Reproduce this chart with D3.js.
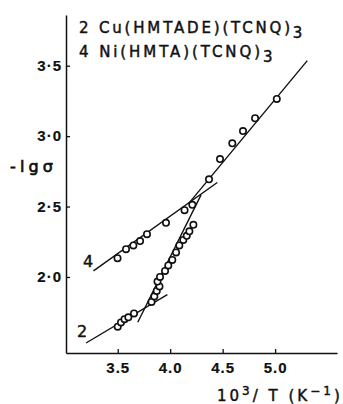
<!DOCTYPE html>
<html><head><meta charset="utf-8">
<script src="https://cdn.jsdelivr.net/npm/d3@7"></script>
<style>
html,body{margin:0;padding:0;background:#fff;}
svg{display:block;}
text{font-family:"DejaVu Sans","Liberation Sans",sans-serif;fill:#111;stroke:#111;stroke-width:0.45px;}
</style></head>
<body>
<div id="chart"></div>
<script>
// Data: x = 10^3/T (K^-1), y = -lg sigma
const s4x = [3.498,3.579,3.649,3.713,3.779,3.960,4.137,4.211,4.370,4.475,4.592,4.694,4.809,5.016];
const s4y = [2.133,2.197,2.224,2.255,2.304,2.384,2.474,2.512,2.693,2.837,2.949,3.036,3.127,3.264];
const s2x = [3.500,3.531,3.565,3.601,3.655,3.822,3.849,3.872,3.898,3.879,3.903,3.951,3.982,4.020,4.056,4.087,4.125,4.158,4.183,4.221];
const s2y = [1.647,1.677,1.700,1.713,1.741,1.823,1.862,1.901,1.933,1.967,2.000,2.043,2.082,2.121,2.174,2.224,2.263,2.292,2.324,2.370];
// fitted straight lines [x1,y1,x2,y2]
const fit4Low  = [3.269,2.043,4.449,2.671];
const fit4High = [4.173,2.519,5.307,3.536];
const fit2Low  = [3.198,1.531,3.973,1.875];
const fit2High = [3.691,1.678,4.294,2.583];
const xTicks = [3.5,4.0,4.5,5.0];
const xTickLabels = ["3.5","4.0","4.5","5.0"];
const yTicks = [2.0,2.5,3.0,3.5];
const yTickLabels = ["2·0","2·5","3·0","3·5"];
const xDomain = [3.007,5.59];
const yDomain = [1.46,3.86];

const W=343,H=404;
const svg=d3.select("#chart").append("svg").attr("width",W).attr("height",H);
const x=d3.scaleLinear().domain(xDomain).range([66,337]);
const y=d3.scaleLinear().domain(yDomain).range([353,15]);

const ink="#111";
const yAxis=d3.axisLeft(y).tickValues(yTicks).tickSizeInner(-4).tickSizeOuter(0).tickPadding(4)
  .tickFormat((d,i)=>yTickLabels[i]);
const xAxis=d3.axisBottom(x).tickValues(xTicks).tickSizeInner(-4).tickSizeOuter(0).tickPadding(9)
  .tickFormat((d,i)=>xTickLabels[i]);

const gy=svg.append("g").attr("transform","translate(66,0)").call(yAxis);
const gx=svg.append("g").attr("transform","translate(0,353)").call(xAxis);
[gx,gy].forEach(g=>{
  g.select(".domain").attr("stroke",ink).attr("stroke-width",1.5);
  g.selectAll(".tick line").attr("stroke",ink).attr("stroke-width",1.3);
  g.selectAll(".tick text").attr("fill",ink).style("font-size","15px").style("font-weight","bold")
    .style("font-family","'Liberation Sans',sans-serif").style("letter-spacing","1px").style("stroke-width","0.2px");
});

// fit lines
const fits=[fit4Low,fit4High,fit2Low,fit2High];
svg.append("g").selectAll("line").data(fits).join("line")
  .attr("x1",d=>x(d[0])).attr("y1",d=>y(d[1])).attr("x2",d=>x(d[2])).attr("y2",d=>y(d[3]))
  .attr("stroke",ink).attr("stroke-width",1.4);

// points
const pts=s4x.map((v,i)=>[v,s4y[i]]).concat(s2x.map((v,i)=>[v,s2y[i]]));
svg.append("g").selectAll("circle").data(pts).join("circle")
  .attr("cx",d=>x(d[0])).attr("cy",d=>y(d[1])).attr("r",3.2)
  .attr("fill","#fff").attr("stroke",ink).attr("stroke-width",1.6);

// legend
function chem(xp,yp,main,sub,len){
  const el=svg.append("text").attr("x",xp).attr("y",yp).style("font-size","15px");
  el.append("tspan").text(main).attr("textLength",len).attr("lengthAdjust","spacing");
  el.append("tspan").attr("dy",5).text(sub);
}
chem(79,33,"2 Cu(HMTADE)(TCNQ)","3",211);
chem(79,57,"4 Ni(HMTA)(TCNQ)","3",181);

// curve labels
svg.append("text").attr("x",83).attr("y",267).text("4").style("font-size","16px");
svg.append("text").attr("x",77).attr("y",337).text("2").style("font-size","16px");

// axis titles
svg.append("text").attr("x",10).attr("y",172).text("-lgσ").style("font-size","16px").style("stroke-width","0.7px")
  .attr("textLength",43).attr("lengthAdjust","spacing");
const xt=svg.append("text").attr("x",217).attr("y",401).style("font-size","15px").style("letter-spacing","3px");
xt.append("tspan").text("10");
xt.append("tspan").attr("dy",-6).style("font-size","12px").text("3");
xt.append("tspan").attr("dy",6).text("/ T (K");
xt.append("tspan").attr("dy",-6).style("font-size","12px").text("−1");
xt.append("tspan").attr("dy",6).text(")");
</script>
</body></html>
